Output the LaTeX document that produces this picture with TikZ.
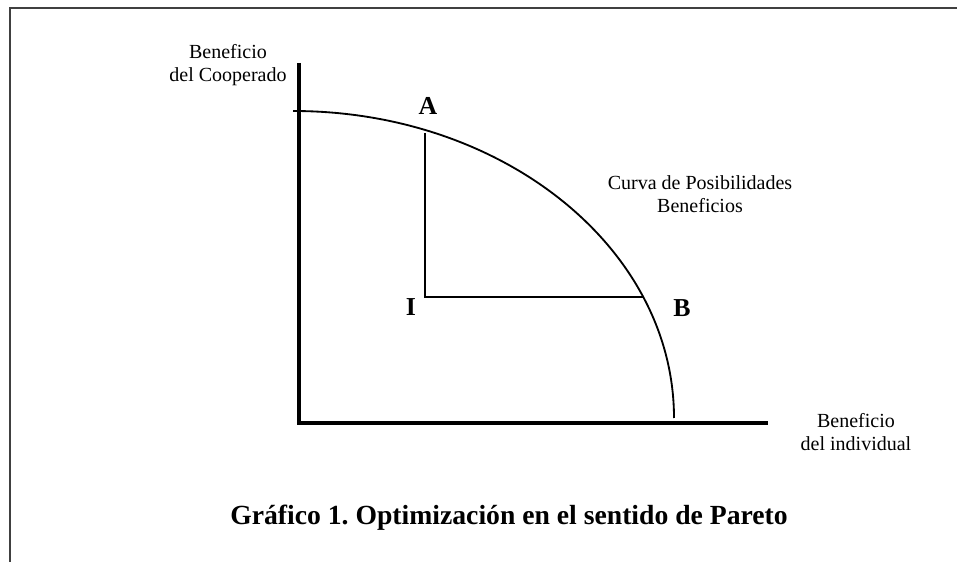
\documentclass[tikz,border=0pt]{standalone}
\usepackage{fontspec}
\setmainfont{Liberation Serif}
\frenchspacing
\usetikzlibrary{positioning}
\tikzset{x=0.6pt,y=-0.6pt,axis/.style={line width=2.4pt},guide/.style={line width=1pt},frame/.style={line width=0.8pt,draw=black!75},curve/.style={line width=1.1pt},point/.style={font=\fontsize{15.5}{18}\selectfont\bfseries},caption/.style={align=center,font=\fontsize{12}{13.8}\selectfont}}

\begin{document}
\begin{tikzpicture}
	\useasboundingbox (0,0) rectangle (957,562);
	\draw[frame] (10,562) -- (10,8) -- (957,8);
	\coordinate (ytop) at (299,63);
	\coordinate (o) at (299,423);
	\coordinate (xend) at (768,423);
	\coordinate (afoot) at (425,133);
	\coordinate (corner) at (425,297);
	\coordinate (bfoot) at (643,297);
	\draw[axis] (ytop) -- (o) -- (xend);
	\draw[curve] (293,111) arc[start angle=-90, end angle=0, x radius=381, y radius=307];
	\draw[guide] (afoot) -- (corner) -- (bfoot);
	\node[point] (A) at (428,106) {A};
	\node[point] (I) at (411,307) {I};
	\node[point] (B) at (682,308) {B};
	\node[caption] (ylabel) at (228,65) {Beneficio\\del Cooperado};
	\node[caption] (xlabel) at (856,432) {Beneficio\\del individual};
	\node[caption] (cpb) at (700,194) {Curva de Posibilidades\\Beneficios};
	\node[font=\fontsize{16.6}{18}\selectfont\bfseries] (title) at (509,518) {Gráfico 1. Optimización en el sentido de Pareto};
\end{tikzpicture}
\end{document}
